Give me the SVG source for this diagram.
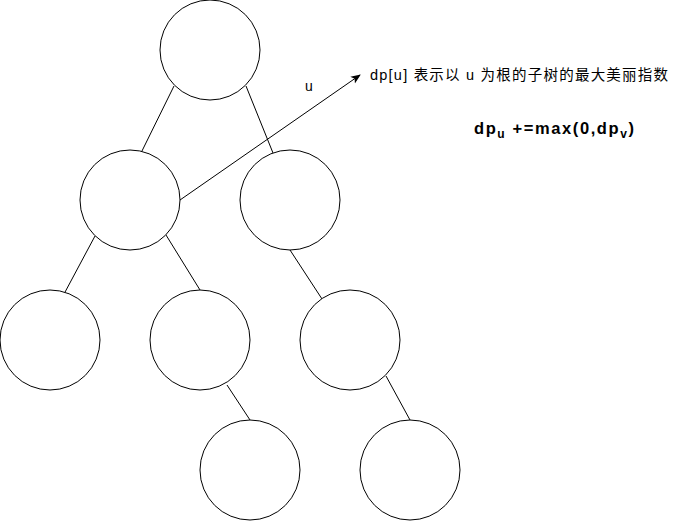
<svg xmlns="http://www.w3.org/2000/svg" width="681" height="521" viewBox="0 0 681 521">
<defs>
<style>
.n{fill:#ffffff;stroke:#000000;stroke-width:1}
.e{stroke:#000000;stroke-width:1;fill:none}
.t{font-family:"Liberation Sans","Noto Sans CJK SC",sans-serif;fill:#000000}
</style>
<marker id="ah" viewBox="0 0 10 10" refX="9" refY="5" markerWidth="10" markerHeight="10" orient="auto" markerUnits="userSpaceOnUse">
<path d="M0,1 L10,5 L0,9 L2.5,5 Z" fill="#000000"/>
</marker>
</defs>
<rect width="681" height="521" fill="#ffffff"/>
<g id="connectors">
<line class="e" x1="174" y1="86" x2="140" y2="155"/>
<line class="e" x1="246" y1="86" x2="273" y2="153"/>
<line class="e" x1="95" y1="236" x2="64" y2="294"/>
<line class="e" x1="166" y1="235" x2="200" y2="290"/>
<line class="e" x1="290" y1="250" x2="322" y2="299"/>
<line class="e" x1="227" y1="385" x2="250" y2="420"/>
<line class="e" x1="386" y1="376" x2="410" y2="420"/>
<line class="e" x1="180" y1="200" x2="360" y2="75" marker-end="url(#ah)"/>
</g>
<g id="root"><circle class="n" cx="210" cy="50" r="50"/></g>
<g id="u"><circle class="n" cx="130" cy="200" r="50"/></g>
<g id="r1"><circle class="n" cx="290" cy="200" r="50"/></g>
<g id="l2a"><circle class="n" cx="50" cy="340" r="50"/></g>
<g id="l2b"><circle class="n" cx="200" cy="340" r="50"/></g>
<g id="l2c"><circle class="n" cx="350" cy="340" r="50"/></g>
<g id="l3a"><circle class="n" cx="250" cy="470" r="50"/></g>
<g id="l3b"><circle class="n" cx="410" cy="470" r="50"/></g>
<g id="label-u"><text class="t" x="305" y="91" font-size="14">u</text></g>
<g id="label-dp"><text class="t" x="370" y="80" font-size="14.5" textLength="298" lengthAdjust="spacing">dp[u] 表示以 u 为根的子树的最大美丽指数</text></g>
<g id="formula"><text class="t" x="474" y="134" font-size="16.5" font-weight="bold" textLength="160" lengthAdjust="spacing">dp<tspan font-size="12" dy="4">u</tspan><tspan dy="-4"> +=max(0,dp</tspan><tspan font-size="12" dy="4">v</tspan><tspan dy="-4">)</tspan></text></g>
</svg>
